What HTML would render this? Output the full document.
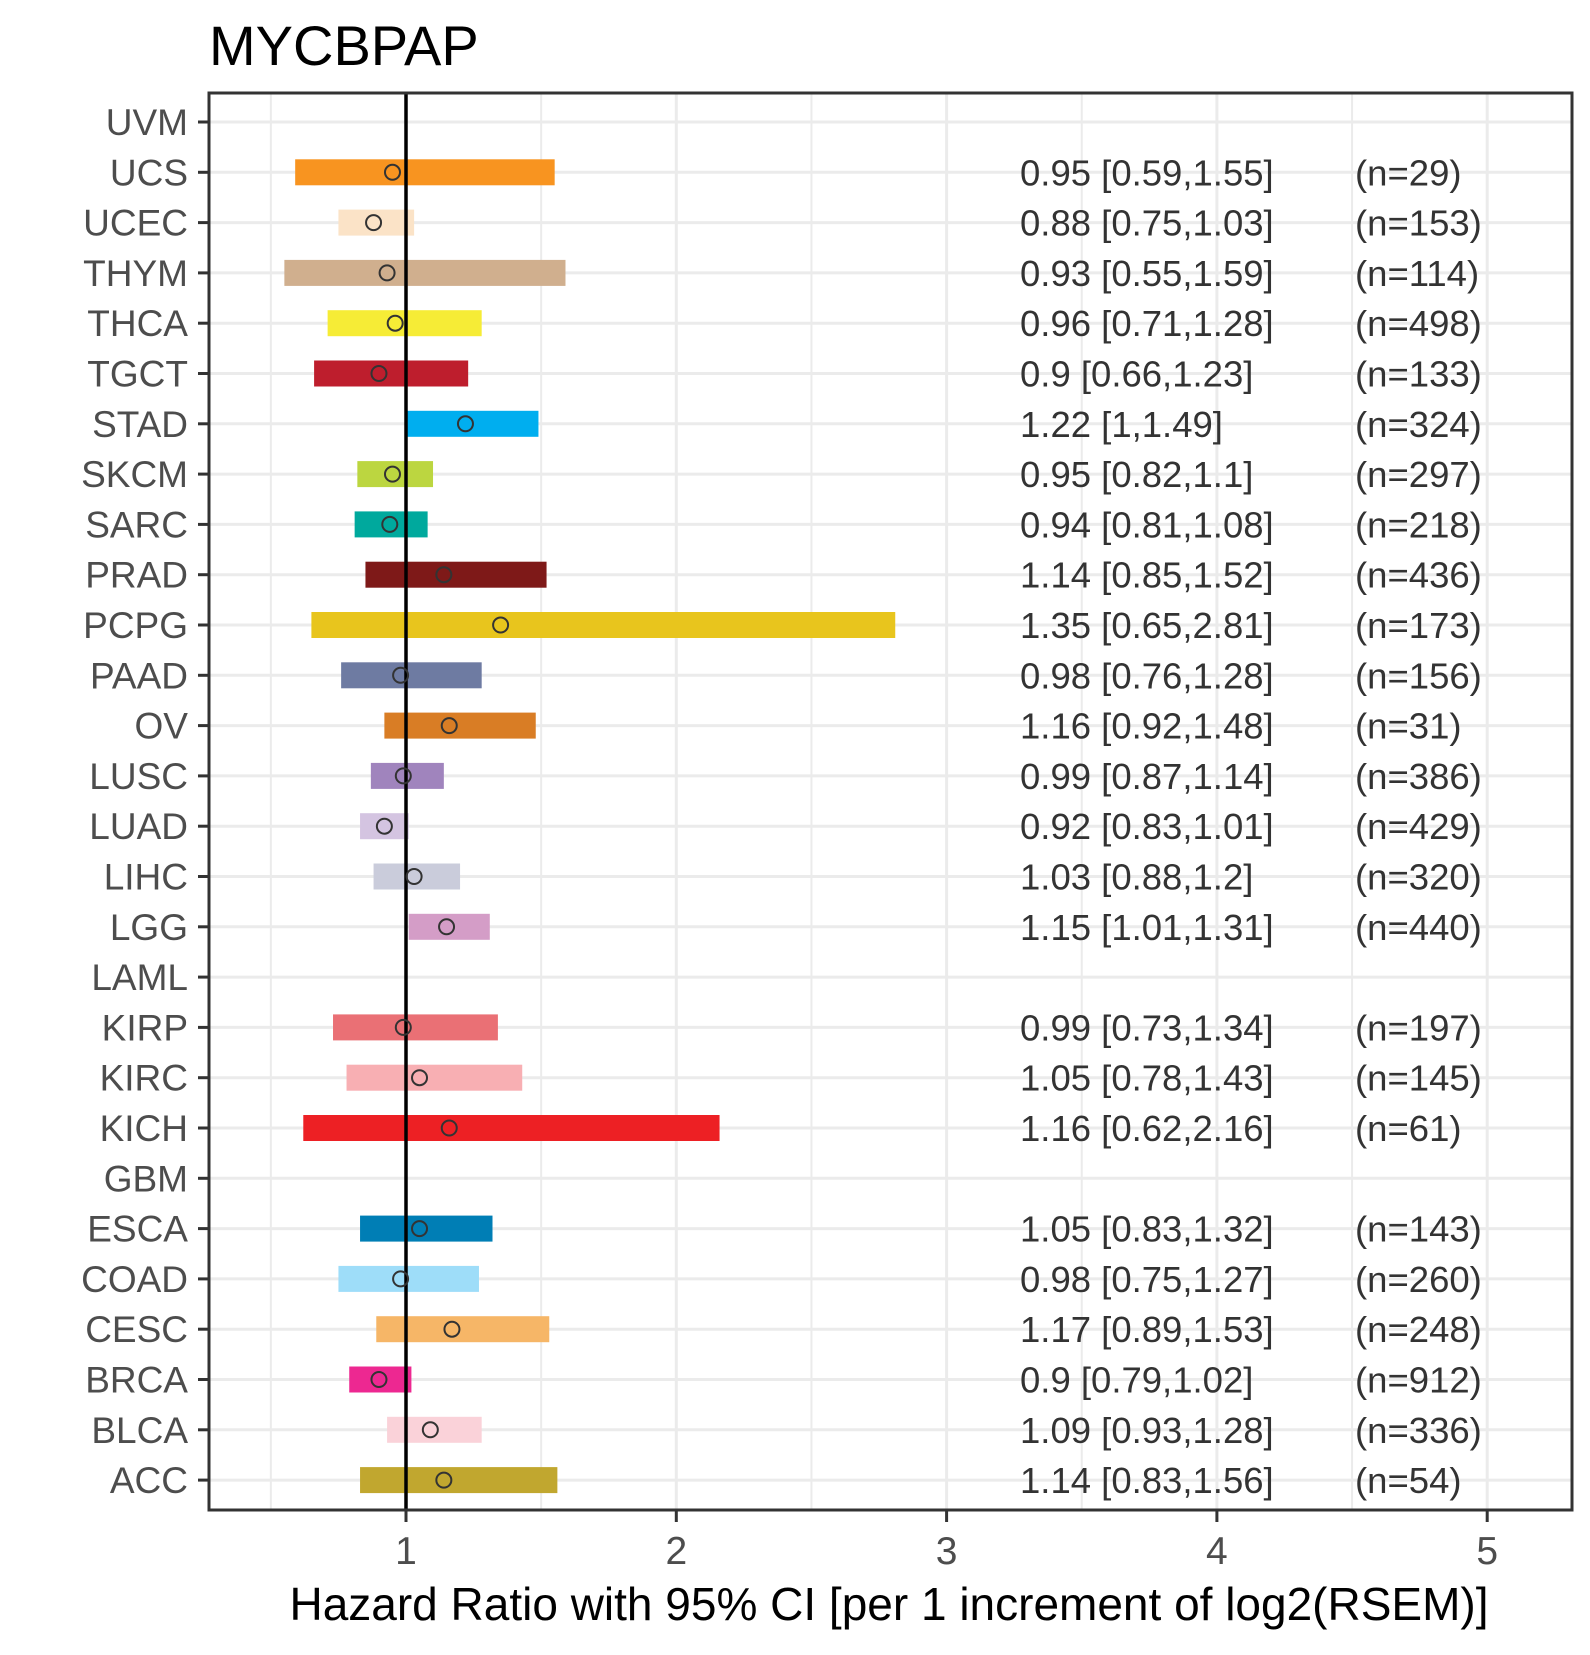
<!DOCTYPE html>
<html><head><meta charset="utf-8"><style>
body{margin:0;background:#fff}
svg text{font-family:"Liberation Sans",sans-serif}
</style></head><body>
<svg id="chart" width="1590" height="1650" xmlns="http://www.w3.org/2000/svg"></svg>
<script>
const cancers=["UVM","UCS","UCEC","THYM","THCA","TGCT","STAD","SKCM","SARC","PRAD","PCPG","PAAD","OV","LUSC","LUAD","LIHC","LGG","LAML","KIRP","KIRC","KICH","GBM","ESCA","COAD","CESC","BRCA","BLCA","ACC"];
const hr=[null,0.95,0.88,0.93,0.96,0.9,1.22,0.95,0.94,1.14,1.35,0.98,1.16,0.99,0.92,1.03,1.15,null,0.99,1.05,1.16,null,1.05,0.98,1.17,0.9,1.09,1.14];
const lo=[null,0.59,0.75,0.55,0.71,0.66,1,0.82,0.81,0.85,0.65,0.76,0.92,0.87,0.83,0.88,1.01,null,0.73,0.78,0.62,null,0.83,0.75,0.89,0.79,0.93,0.83];
const hi=[null,1.55,1.03,1.59,1.28,1.23,1.49,1.1,1.08,1.52,2.81,1.28,1.48,1.14,1.01,1.2,1.31,null,1.34,1.43,2.16,null,1.32,1.27,1.53,1.02,1.28,1.56];
const nval=[null,29,153,114,498,133,324,297,218,436,173,156,31,386,429,320,440,null,197,145,61,null,143,260,248,912,336,54];
const colors=["#0000","#F89420","#FBE3C7","#D0AF8E","#F6EC36","#BE1E2D","#00AEEF","#BCD640","#00A99D","#7E1918","#E8C51D","#6E7BA2","#D97D25","#A084BD","#D4C4E1","#CACCDB","#D49DC7","#754C29","#EA7075","#F8AFB3","#ED2024","#B2509E","#007EB5","#9EDDF9","#F6B667","#ED2891","#FAD2D9","#C1A72F"];
const xTicks=[1,2,3,4,5];
const xMinor=[0.5,1.5,2.5,3.5,4.5];

const NS="http://www.w3.org/2000/svg";
const svg=document.getElementById('chart');
const L=209,R=1572,T=93,B=1510;
const X=v=>406+(v-1)*270.3;
const Y=i=>122+i*50.3;
function el(tag,attrs,parent){const e=document.createElementNS(NS,tag);for(const k in attrs)e.setAttribute(k,attrs[k]);(parent||svg).appendChild(e);return e;}

let t=el('text',{x:209,y:65,'font-size':56,fill:'#000'});t.textContent='MYCBPAP';



const grid=el('g',{});


xMinor.forEach(v=>el('line',{x1:X(v),x2:X(v),y1:T,y2:B,stroke:'#ebebeb','stroke-width':2},grid));
xTicks.forEach(v=>el('line',{x1:X(v),x2:X(v),y1:T,y2:B,stroke:'#ebebeb','stroke-width':3},grid));
cancers.forEach((c,i)=>el('line',{x1:L,x2:R,y1:Y(i),y2:Y(i),stroke:'#ebebeb','stroke-width':3},grid));

cancers.forEach((c,i)=>{
  const y=Y(i);
  const lab=el('text',{x:188,y:y+13,'font-size':37,fill:'#4d4d4d','text-anchor':'end'});
  lab.textContent=c;
  
  
  el('line',{x1:198,x2:209,y1:y,y2:y,stroke:'#333','stroke-width':3});
  if(hr[i]==null)return;
  const bar=el('rect',{x:X(lo[i]),y:y-13,width:X(hi[i])-X(lo[i]),height:26,fill:colors[i]});
  
  
});
el('line',{x1:X(1),x2:X(1),y1:T,y2:B,stroke:'#000','stroke-width':3.5});
cancers.forEach((c,i)=>{
  if(hr[i]==null)return;
  const y=Y(i);
  const p=el('circle',{cx:X(hr[i]),cy:y,r:7.5,fill:'none',stroke:'#333','stroke-width':2});
  
  
  const a=el('text',{x:1020,y:y+13,'font-size':36.5,fill:'#333'});
  a.textContent=hr[i]+' ['+lo[i]+','+hi[i]+']';
  
  
  const b=el('text',{x:1355,y:y+13,'font-size':36.5,fill:'#333'});
  b.textContent='(n='+nval[i]+')';
  
  
});
const frame=el('rect',{x:L,y:T,width:R-L,height:B-T,fill:'none',stroke:'#333','stroke-width':3});


xTicks.forEach(v=>{
  el('line',{x1:X(v),x2:X(v),y1:B,y2:B+12,stroke:'#333','stroke-width':3});
  const tl=el('text',{x:X(v),y:1564,'font-size':39,fill:'#4d4d4d','text-anchor':'middle'});
  tl.textContent=v;
  
  
});
const xt=el('text',{x:889,y:1620,'font-size':46,fill:'#000','text-anchor':'middle'});
xt.textContent='Hazard Ratio with 95% CI [per 1 increment of log2(RSEM)]';


</script>
</body></html>
